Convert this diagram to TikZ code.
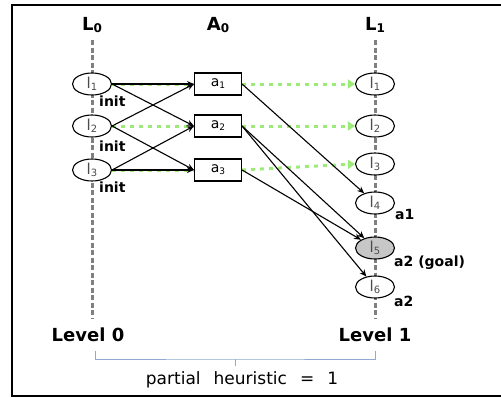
\documentclass[tikz,border=0pt]{standalone}
\usepackage{fontspec}
\setmainfont{DejaVu Sans}
\usetikzlibrary{arrows.meta,shapes.geometric}
\definecolor{dgreen}{HTML}{9CEB78}
\definecolor{braceblue}{HTML}{8FAAD0}
\newcommand{\mysb}[3][9]{#2\raisebox{-2pt}{\fontsize{#1}{#1}\selectfont #3}}
\begin{document}
\begin{tikzpicture}[x=1pt,y=-1pt,
  lit/.style={ellipse, draw, line width=1.1pt, fill=white, minimum width=39pt,
    minimum height=22pt, inner sep=0pt, text=black!70, font=\fontsize{15}{15}\selectfont},
  goal/.style={lit, fill=black!22},
  act/.style={rectangle, draw, line width=1.1pt, fill=white, minimum width=47pt,
    minimum height=22pt, inner sep=0pt, font=\fontsize{14}{14}\selectfont},
  lvl/.style={font=\bfseries\fontsize{18}{18}\selectfont, inner sep=0pt},
  ann/.style={font=\bfseries\fontsize{14}{14}\selectfont, inner sep=0pt, anchor=north west},
  layer/.style={draw=black!50, line width=3pt, dash pattern=on 5pt off 2.5pt},
  arr/.style={-{Stealth[length=7pt,width=6pt]}, line width=1.1pt},
  grn/.style={draw=dgreen, line width=3pt, dash pattern=on 4pt off 5pt},
  grnarr/.style={grn, -{Triangle[length=7pt,width=9pt]}}
]
\useasboundingbox (0,0) rectangle (501,397);
\draw[line width=1.3pt] (12,5) rectangle (504,396);

% level headers
\node[lvl] (L0) at (92,25) {\mysb[12]{L}{0}};
\node[lvl] (A0) at (218,25) {\mysb[12]{A}{0}};
\node[lvl] (L1) at (375,25) {\mysb[12]{L}{1}};

% layer lines
\coordinate (t0) at (92,40);  \coordinate (b0) at (92,318);
\coordinate (t1) at (375,40); \coordinate (b1) at (375,318);
\draw[layer] (t0) -- (b0);
\draw[layer] (t1) -- (b1);

% level 0 literals
\node[lit] (l01) at (92,84)  {\mysb[10]{l}{1}};
\node[lit] (l02) at (92,126) {\mysb[10]{l}{2}};
\node[lit] (l03) at (92,170) {\mysb[10]{l}{3}};

% actions
\node[act] (a1) at (218,84)  {\mysb[9]{a}{1}};
\node[act] (a2) at (218,126) {\mysb[9]{a}{2}};
\node[act] (a3) at (218,170) {\mysb[9]{a}{3}};

% level 1 literals
\node[lit] (l11) at (375,84)  {\mysb[10]{l}{1}};
\node[lit] (l12) at (375,126) {\mysb[10]{l}{2}};
\node[lit] (l13) at (375,164) {\mysb[10]{l}{3}};
\node[lit] (l14) at (375,203) {\mysb[10]{l}{4}};
\node[goal] (l15) at (375,248) {\mysb[10]{l}{5}};
\node[lit] (l16) at (375,287) {\mysb[10]{l}{6}};

% green no-op links
\draw[grn] (l01.east) -- (a1.west);
\draw[grn] (l02.east) -- (a2.west);
\draw[grn] (l03.east) -- (a3.west);
\draw[grnarr] (a1.east) -- (l11.west);
\draw[grnarr] (a2.east) -- (l12.west);
\draw[grnarr] (a3.east) -- (l13.west);

% preconditions
\draw[arr] (l01.east) -- (a1.west);
\draw[arr] (l01.east) -- (a2.west);
\draw[arr] (l02.east) -- (a1.west);
\draw[arr] (l02.east) -- (a3.west);
\draw[arr] (l03.east) -- (a2.west);
\draw[arr] (l03.east) -- (a3.west);

% effects
\draw[arr] (a1.east) -- (l14);
\draw[arr] (a2.east) -- (l15);
\draw[arr] (a2.east) -- (l16);
\draw[arr] (a3.east) -- (l15);

% annotations
\node[ann] (i1) at (99,96)  {init};
\node[ann] (i2) at (99,141) {init};
\node[ann] (i3) at (99,182) {init};
\node[ann] (e4) at (395,209) {a1};
\node[ann] (e5) at (394,256) {a2 (goal)};
\node[ann] (e6) at (394,296) {a2};

% level labels
\node[lvl] (lev0) at (88,335) {Level 0};
\node[lvl] (lev1) at (375,335) {Level 1};

% brace
\coordinate (bl) at (95,351);
\coordinate (br) at (375,351);
\coordinate (bm) at (235,359);
\coordinate (bt) at (235,366);
\draw[braceblue, line width=0.8pt] (bl) |- (bm) -| (br);
\draw[braceblue, line width=0.8pt] (bm) -- (bt);
\node[font={\fontsize{17}{17}\selectfont\spaceskip=13pt}, inner sep=0pt] (ph) at (242,380) {partial heuristic = 1};
\end{tikzpicture}
\end{document}
